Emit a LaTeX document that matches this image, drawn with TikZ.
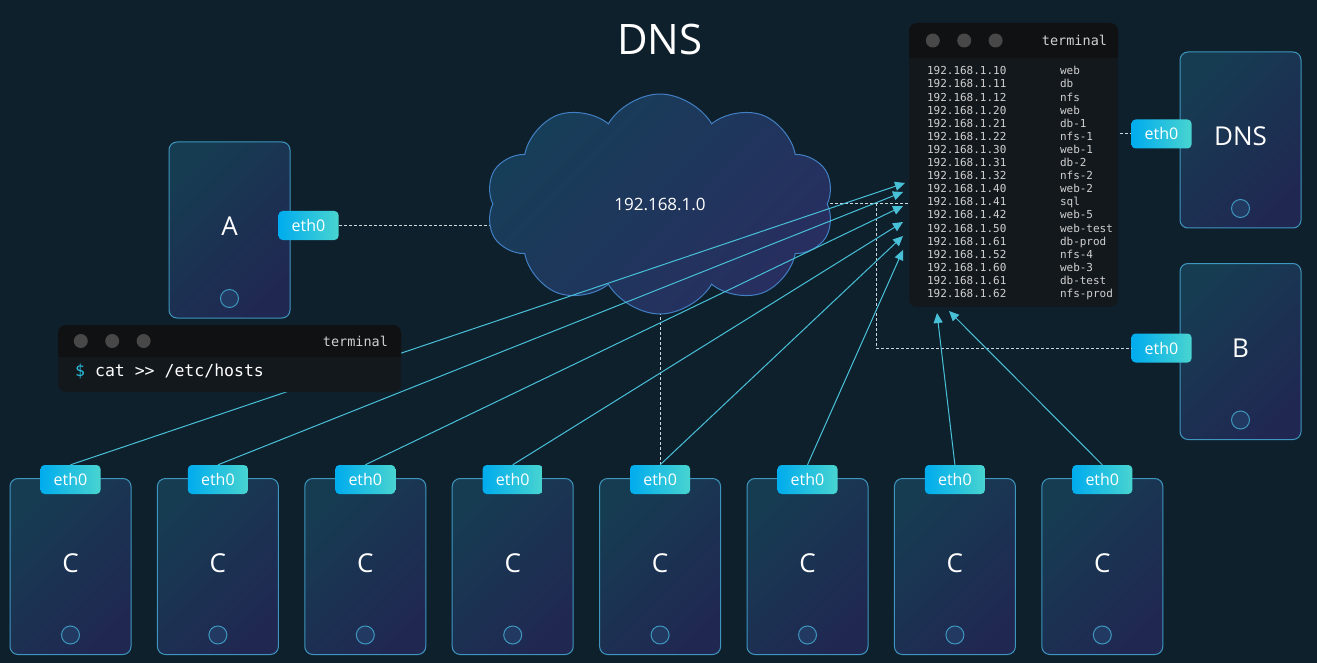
\documentclass[tikz,border=0pt]{standalone}
\usepackage{fontspec}
\setmainfont{Open Sans}
\setmonofont{DejaVu Sans Mono}
\usetikzlibrary{positioning,arrows.meta,shapes.symbols}
\newlength{\lwidth}
\setlength{\lwidth}    {1pt}

\definecolor{bgcol}{RGB}{15,32,45}
\definecolor{boxtop}{RGB}{22,60,82}
\definecolor{boxbot}{RGB}{32,40,82}
\definecolor{boxline}{RGB}{62,150,190}
\definecolor{btnfill}{RGB}{34,58,98}
\definecolor{ethleft}{RGB}{0,172,238}
\definecolor{ethright}{RGB}{72,212,208}
\definecolor{linkcol}{RGB}{72,192,215}
\definecolor{wirecol}{RGB}{205,215,222}
\definecolor{cloudtop}{RGB}{22,62,88}
\definecolor{cloudbot}{RGB}{40,46,96}
\definecolor{cloudline}{RGB}{66,128,196}
\definecolor{termhead}{RGB}{16,17,18}
\definecolor{termbody}{RGB}{19,24,29}
\definecolor{termdot}{RGB}{72,72,72}
\definecolor{termtxt}{RGB}{208,208,208}
\definecolor{dollar}{RGB}{40,190,222}

\tikzset{
  device/.style={draw=boxline,line width=\lwidth,rounded corners=8pt,
    top color=boxtop,bottom color=boxbot,shading angle=45,
    minimum width=121pt,minimum height=176pt,inner sep=0pt,text depth=7pt,
    text=white,font=\fontsize{26}{30}\selectfont},
  button/.style={circle,draw=boxline,fill=btnfill,line width=\lwidth,
    minimum size=18pt,inner sep=0pt},
  ethport/.style={rounded corners=4pt,left color=ethleft,middle color=ethleft,
    right color=ethright,minimum width=60pt,minimum height=29pt,inner sep=0pt,
    text=white,font=\fontsize{16}{18}\selectfont},
  netcloud/.style={cloud,cloud puffs=10,cloud puff arc=120,aspect=1.6,
    cloud ignores aspect,draw=cloudline,line width=\lwidth,
    top color=cloudtop,bottom color=cloudbot,shading angle=45,
    minimum width=348pt,minimum height=220pt,inner sep=0pt,
    text=white,font=\fontsize{17}{20}\selectfont},
  termbox/.style={rounded corners=8pt,fill=termbody,inner sep=0pt},
  termhd/.style={rounded corners=8pt,fill=termhead,inner sep=0pt},
  tdot/.style={circle,fill=termdot,minimum size=14pt,inner sep=0pt},
  termlbl/.style={text=termtxt,inner sep=0pt,font=\ttfamily\fontsize{13.5}{15}\selectfont},
  wire/.style={wirecol,line width=\lwidth,dash pattern=on 3pt off 2pt},
  link/.style={linkcol,line width=\lwidth,-{Triangle[length=10pt,width=9pt]}},
}

\begin{document}
\begin{tikzpicture}[x=1pt,y=-1pt]
  %% canvas
  %% ------------------------------------
  \fill[bgcol] (0,0) rectangle (1317,663);
  \useasboundingbox (0,0) rectangle (1317,663);
  \node[text=white,font=\fontsize{42}{48}\selectfont] (title) at (660,40) {DNS};

  %% hosts A, DNS and B
  %% ------------------------------------
  \node[device] (a)   at (229.5,230)  {A};
  \node[device] (dns) at (1240.5,140) {DNS};
  \node[device] (b)   at (1240.5,351.5) {B};
  \node[button] (abtn)   at ([yshift=20pt]a.south)   {};
  \node[button] (dnsbtn) at ([yshift=20pt]dns.south) {};
  \node[button] (bbtn)   at ([yshift=20pt]b.south)   {};
  \node[ethport] (aeth)   at ([xshift=18pt,yshift=4.5pt]a.east) {eth0};
  \node[ethport] (dnseth) at ([xshift=-18pt,yshift=6pt]dns.west) {eth0};
  \node[ethport] (beth)   at ([xshift=-18pt,yshift=3.5pt]b.west) {eth0};

  %% clients C
  %% ------------------------------------
  \pgfmathsetmacro{\cx}{70.5} \pgfmathsetmacro{\cstep}{147.4}
  \pgfmathsetmacro{\cy}{566.5}
  \node[device] (c1) at (\cx+0*\cstep,\cy) {C};
  \node[device] (c2) at (\cx+1*\cstep,\cy) {C};
  \node[device] (c3) at (\cx+2*\cstep,\cy) {C};
  \node[device] (c4) at (\cx+3*\cstep,\cy) {C};
  \node[device] (c5) at (\cx+4*\cstep,\cy) {C};
  \node[device] (c6) at (\cx+5*\cstep,\cy) {C};
  \node[device] (c7) at (\cx+6*\cstep,\cy) {C};
  \node[device] (c8) at (\cx+7*\cstep,\cy) {C};
  \node[button] (c1btn) at ([yshift=20pt]c1.south) {};
  \node[button] (c2btn) at ([yshift=20pt]c2.south) {};
  \node[button] (c3btn) at ([yshift=20pt]c3.south) {};
  \node[button] (c4btn) at ([yshift=20pt]c4.south) {};
  \node[button] (c5btn) at ([yshift=20pt]c5.south) {};
  \node[button] (c6btn) at ([yshift=20pt]c6.south) {};
  \node[button] (c7btn) at ([yshift=20pt]c7.south) {};
  \node[button] (c8btn) at ([yshift=20pt]c8.south) {};
  \node[ethport] (c1eth) at ([yshift=-1.5pt]c1.north) {eth0};
  \node[ethport] (c2eth) at ([yshift=-1.5pt]c2.north) {eth0};
  \node[ethport] (c3eth) at ([yshift=-1.5pt]c3.north) {eth0};
  \node[ethport] (c4eth) at ([yshift=-1.5pt]c4.north) {eth0};
  \node[ethport] (c5eth) at ([yshift=-1.5pt]c5.north) {eth0};
  \node[ethport] (c6eth) at ([yshift=-1.5pt]c6.north) {eth0};
  \node[ethport] (c7eth) at ([yshift=-1.5pt]c7.north) {eth0};
  \node[ethport] (c8eth) at ([yshift=-1.5pt]c8.north) {eth0};

  %% network wires (under cloud and terminal)
  %% ------------------------------------
  \coordinate (net)    at (660,204);
  \coordinate (hostsc) at (1013.5,165);
  \coordinate (bturn)  at (876,300);
  \draw[wire] (aeth.east) -- (aeth.east -| net);
  \draw[wire] (c5eth.north) -- (c5eth.north |- net);
  \draw[wire] (net) -| (hostsc) |- (dnseth.west);
  \draw[wire] (net) -| (bturn) |- (beth.west);

  %% network cloud
  %% ------------------------------------
  \node[netcloud] (cloud) at (net) {192.168.1.0};

  %% /etc/hosts terminal
  %% ------------------------------------
  \node[termbox,minimum width=209pt,minimum height=284pt] (hosts) at (hostsc) {};
  \node[termhd,minimum width=209pt,minimum height=35pt,anchor=north] (hostshd) at (hosts.north) {};
  \fill[termhead] (hostshd.west) rectangle (hostshd.south east);
  \node[tdot] (hdot1) at ([xshift=24pt]hostshd.west) {};
  \node[tdot,right=17pt of hdot1] (hdot2) {};
  \node[tdot,right=17pt of hdot2] (hdot3) {};
  \node[termlbl,anchor=east] (hoststitle) at ([xshift=-11pt]hostshd.east) {terminal};
  \node[anchor=north west,inner sep=0pt,text=termtxt] (hostsfile)
       at ([xshift=18pt,yshift=-7.3pt]hostshd.south west)
       {\ttfamily\fontsize{11}{13.1}\selectfont
        \begin{tabular}{@{}p{133pt}@{}l@{}}
        192.168.1.10 & web \\
        192.168.1.11 & db \\
        192.168.1.12 & nfs \\
        192.168.1.20 & web \\
        192.168.1.21 & db-1 \\
        192.168.1.22 & nfs-1 \\
        192.168.1.30 & web-1 \\
        192.168.1.31 & db-2 \\
        192.168.1.32 & nfs-2 \\
        192.168.1.40 & web-2 \\
        192.168.1.41 & sql \\
        192.168.1.42 & web-5 \\
        192.168.1.50 & web-test \\
        192.168.1.61 & db-prod \\
        192.168.1.52 & nfs-4 \\
        192.168.1.60 & web-3 \\
        192.168.1.61 & db-test \\
        192.168.1.62 & nfs-prod
        \end{tabular}};

  %% queries from the clients
  %% ------------------------------------
  \coordinate (t1) at (905,183); \coordinate (t2) at (903,192);
  \coordinate (t3) at (903,206); \coordinate (t4) at (903,222);
  \coordinate (t5) at (903,236); \coordinate (t6) at (903,250);
  \coordinate (t7) at (937,313); \coordinate (t8) at (949,311);
  \draw[link] (c1eth.north) -- (t1);
  \draw[link] (c2eth.north) -- (t2);
  \draw[link] (c3eth.north) -- (t3);
  \draw[link] (c4eth.north) -- (t4);
  \draw[link] (c5eth.north) -- (t5);
  \draw[link] (c6eth.north) -- (t6);
  \draw[link] (c7eth.north) -- (t7);
  \draw[link] (c8eth.north) -- (t8);

  %% terminal on A
  %% ------------------------------------
  \node[termbox,minimum width=343pt,minimum height=67pt] (catterm) at (229.5,358.5) {};
  \node[termhd,minimum width=343pt,minimum height=32pt,anchor=north] (cathd) at (catterm.north) {};
  \fill[termhead] (cathd.west) rectangle (cathd.south east);
  \node[tdot] (cdot1) at ([xshift=23pt]cathd.west) {};
  \node[tdot,right=17pt of cdot1] (cdot2) {};
  \node[tdot,right=17pt of cdot2] (cdot3) {};
  \node[termlbl,anchor=east] (cattitle) at ([xshift=-13pt]cathd.east) {terminal};
  \node[anchor=west,inner sep=0pt,text=white,font=\ttfamily\fontsize{16.5}{19}\selectfont]
       (catcmd) at (75,371) {{\color{dollar}\$} cat >{}> /etc/hosts};

\end{tikzpicture}
\end{document}
